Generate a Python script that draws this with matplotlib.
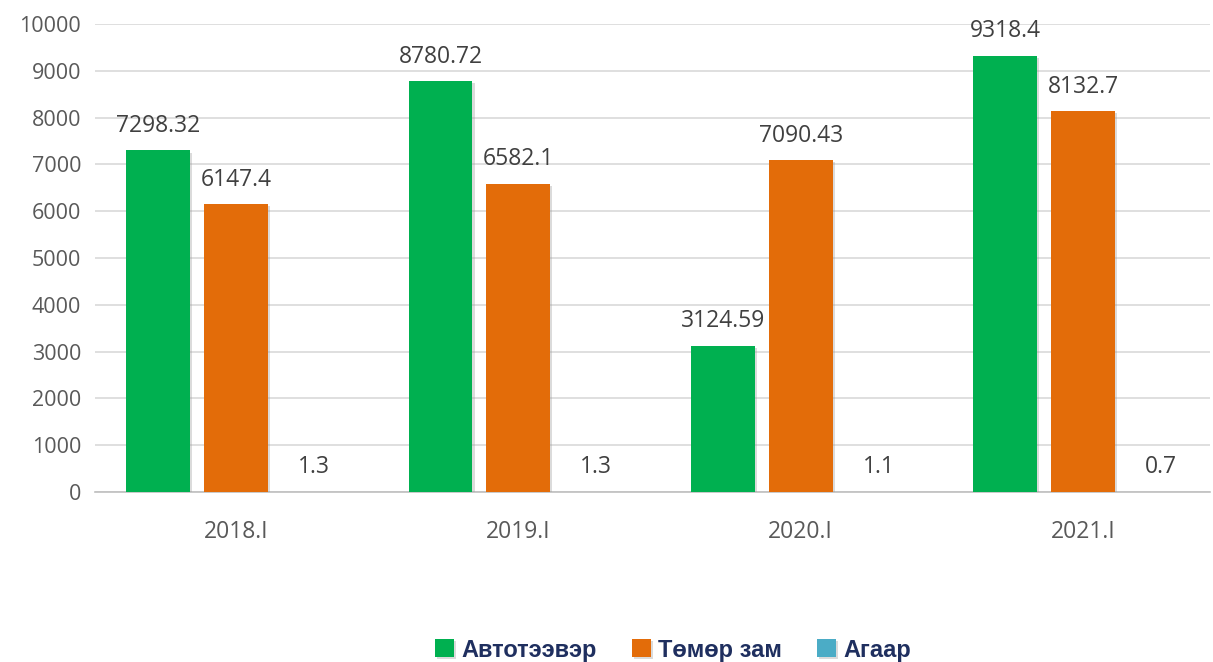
import matplotlib.pyplot as plt
import matplotlib.patheffects as pe
import numpy as np

periods = ['2018.I', '2019.I', '2020.I', '2021.I']
auto = [7298.32, 8780.72, 3124.59, 9318.4]
rail = [6147.4, 6582.1, 7090.43, 8132.7]
air = [1.3, 1.3, 1.1, 0.7]
auto_lbl = ['7298.32', '8780.72', '3124.59', '9318.4']
rail_lbl = ['6147.4', '6582.1', '7090.43', '8132.7']
air_lbl = ['1.3', '1.3', '1.1', '0.7']

series = [
    ('Автотээвэр', auto, auto_lbl, '#00B050'),
    ('Төмөр зам', rail, rail_lbl, '#E36C09'),
    ('Агаар', air, air_lbl, '#4BACC6'),
]

plt.rcParams['font.family'] = ['Open Sans', 'DejaVu Sans']

fig = plt.figure(figsize=(12.13, 6.62), dpi=100)
ax = fig.add_axes([95 / 1213, 170 / 662, 1115 / 1213, 468 / 662])

x = np.arange(len(periods))
slot = 0.276
width = 0.2265
shadow = [pe.SimplePatchShadow(offset=(1.5, -1.5), shadow_rgbFace='#999999', alpha=0.35), pe.Normal()]

for i, (name, vals, lbls, color) in enumerate(series):
    pos = x + (i - 1) * slot
    bars = ax.bar(pos, vals, width, color=color, label=name, zorder=3)
    for b in bars:
        b.set_path_effects(shadow)
    for p, v, t in zip(pos, vals, lbls):
        ax.annotate(t, (p, v), xytext=(0, 9), textcoords='offset points',
                    ha='center', va='bottom', fontsize=16.5, color='#404040', zorder=4)

ax.set_xlim(-0.5, 3.45)
ax.set_ylim(0, 10000)
ax.set_yticks(range(0, 10001, 1000))
ax.set_xticks(x)
ax.set_xticklabels(periods)
ax.tick_params(axis='both', length=0, labelcolor='#595959')
ax.tick_params(axis='x', pad=20, labelsize=16.5)
ax.tick_params(axis='y', pad=10, labelsize=15.5)
ax.grid(axis='y', color='#d9d9d9', linewidth=1.2, zorder=0)
for s in ['top', 'right', 'left']:
    ax.spines[s].set_visible(False)
ax.spines['bottom'].set_color('#bfbfbf')
ax.spines['bottom'].set_linewidth(1.2)

leg = fig.legend(loc='center', bbox_to_anchor=(673 / 1213, 1 - 650 / 662), ncol=3,
                 frameon=False, handlelength=0.8, handleheight=0.8, handletextpad=0.3,
                 columnspacing=1.5, prop={'family': ['Liberation Sans', 'DejaVu Sans'],
                                           'weight': 'bold', 'size': 17})
for t in leg.get_texts():
    t.set_color('#1F2F5F')

fig.savefig('out.png', dpi=100)
